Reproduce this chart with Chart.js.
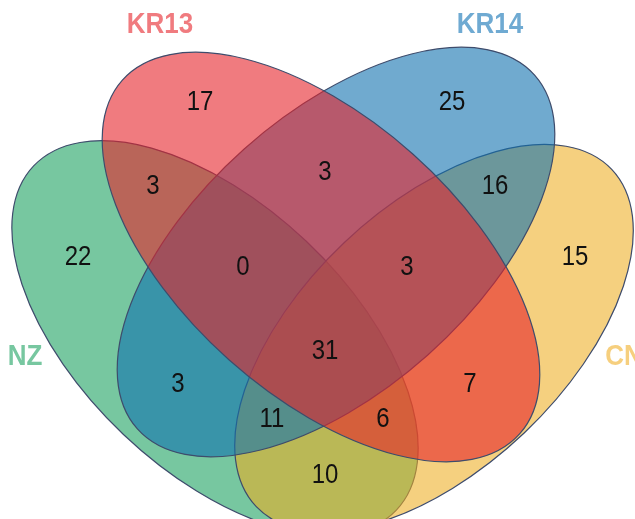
<!DOCTYPE html>
<html>
<head>
<meta charset="utf-8">
<script src="https://cdn.jsdelivr.net/npm/chart.js@4.4.0/dist/chart.umd.min.js"></script>
<style>
  html, body { margin: 0; padding: 0; background: #fff; }
  #wrap { width: 635px; height: 519px; position: relative; }
</style>
</head>
<body>
<div id="wrap"><canvas id="venn"></canvas></div>
<script>
// sets, listed in drawing order (bottom first)
const setNames = ["NZ", "CN", "KR14", "KR13"];
const setFill = ["rgba(28,162,97,0.6)", "rgba(237,172,30,0.57)", "rgba(17,113,175,0.6)", "rgba(230,35,42,0.6)"];
const setLabelColor = ["#77C7A0", "#F6CF7E", "#6FAAD2", "#F07B7F"];

// region counts
const regionNames = ["NZ", "KR13", "KR14", "CN",
  "NZ&KR13", "KR13&KR14", "KR14&CN",
  "NZ&KR13&KR14", "KR13&KR14&CN", "NZ&KR13&KR14&CN",
  "NZ&KR14", "KR13&CN", "NZ&KR14&CN", "NZ&KR13&CN", "NZ&CN"];
const regionCounts = [22, 17, 25, 15, 3, 3, 16, 0, 3, 31, 3, 7, 11, 6, 10];

// layout (axis units = px of the 635x519 frame)
const regionX = [78, 200, 452, 575, 153, 325, 495, 243, 407, 325, 178, 470, 272, 383, 325];
const regionY = [258, 103, 103, 258, 187, 173, 187, 268, 268, 352, 385, 385, 420, 420, 476];
const ellipseCX = [215, 434, 336, 321];
const ellipseCY = [338, 338, 252, 257];
const ellipseRot = [43.5, -43.5, -41.7, 41.7];
const ellipseA = [250, 245, 266, 266];
const ellipseB = [133, 131, 138, 138];
const labelX = [25, 624, 490, 160];
const labelY = [357, 357, 25, 25];

const vennPlugin = {
  id: 'venn',
  beforeDatasetsDraw(chart) {
    const ctx = chart.ctx;
    const xs = chart.scales.x, ys = chart.scales.y;
    setNames.forEach((name, i) => {
      const px = xs.getPixelForValue(ellipseCX[i]);
      const py = ys.getPixelForValue(ellipseCY[i]);
      const rx = xs.getPixelForValue(ellipseCX[i] + ellipseA[i]) - px;
      const ry = ys.getPixelForValue(ellipseCY[i] + ellipseB[i]) - py;
      ctx.save();
      ctx.beginPath();
      ctx.ellipse(px, py, Math.abs(rx), Math.abs(ry), ellipseRot[i] * Math.PI / 180, 0, Math.PI * 2);
      ctx.fillStyle = setFill[i];
      ctx.fill();
      ctx.lineWidth = 1.2;
      ctx.strokeStyle = "#3E4C6C";
      ctx.stroke();
      ctx.restore();
    });
  },
  afterDatasetsDraw(chart) {
    const ctx = chart.ctx;
    const xs = chart.scales.x, ys = chart.scales.y;
    const drawText = (txt, x, y, font, color) => {
      ctx.save();
      ctx.translate(x, y);
      ctx.scale(1, 1.12);
      ctx.font = font;
      ctx.fillStyle = color;
      ctx.textAlign = 'center';
      ctx.textBaseline = 'middle';
      ctx.fillText(txt, 0, 0);
      ctx.restore();
    };
    // counts sit on the (invisible) scatter points
    const meta = chart.getDatasetMeta(0);
    meta.data.forEach((pt, i) => {
      drawText(String(regionCounts[i]), pt.x, pt.y, '24px "Liberation Sans", Arial, sans-serif', '#111');
    });
    setNames.forEach((name, i) => {
      drawText(name, xs.getPixelForValue(labelX[i]), ys.getPixelForValue(labelY[i]),
        'bold 26px "Liberation Sans", Arial, sans-serif', setLabelColor[i]);
    });
  }
};

new Chart(document.getElementById('venn'), {
  type: 'scatter',
  data: {
    datasets: [{
      label: 'counts',
      data: regionX.map((x, i) => ({ x: x, y: regionY[i] })),
      pointRadius: 0,
      pointHoverRadius: 0
    }]
  },
  options: {
    responsive: true,
    maintainAspectRatio: false,
    animation: false,
    layout: { padding: 0 },
    plugins: { legend: { display: false }, tooltip: { enabled: false } },
    scales: {
      x: { type: 'linear', min: 0, max: 635, display: false },
      y: { type: 'linear', min: 0, max: 519, reverse: true, display: false }
    }
  },
  plugins: [vennPlugin]
});
</script>
</body>
</html>
